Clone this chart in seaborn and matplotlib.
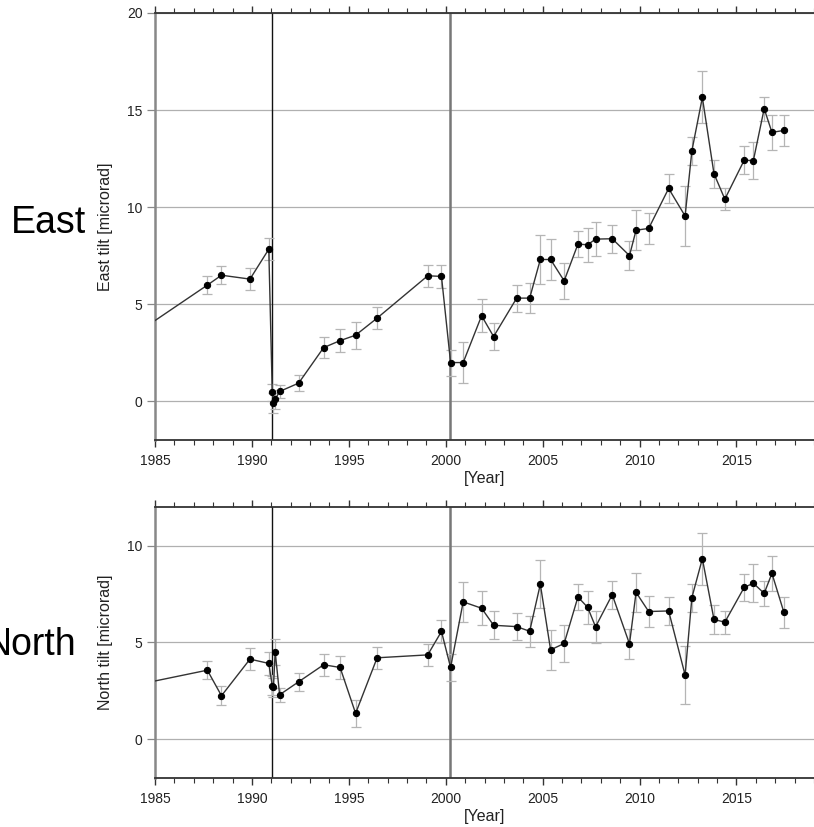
import numpy as np
import pandas as pd
import matplotlib
matplotlib.use("Agg")
import matplotlib.pyplot as plt
import seaborn as sns
from matplotlib.ticker import MultipleLocator

# ---- data ----
years = [1983.0, 1987.70, 1988.43, 1989.90, 1990.87, 1991.05, 1991.11, 1991.20, 1991.43,
         1992.41, 1993.70, 1994.55, 1995.35, 1996.46, 1999.07, 1999.78, 2000.25,
         2000.90, 2001.85, 2002.47, 2003.66, 2004.33, 2004.88, 2005.41, 2006.11,
         2006.82, 2007.32, 2007.73, 2008.59, 2009.48, 2009.82, 2010.47, 2011.50,
         2012.35, 2012.70, 2013.24, 2013.84, 2014.40, 2015.40, 2015.87, 2016.43,
         2016.83, 2017.45]

east = [2.8, 5.98, 6.49, 6.29, 7.83, 0.45, -0.10, 0.10, 0.50,
        0.93, 2.76, 3.12, 3.40, 4.28, 6.46, 6.43, 1.99,
        1.99, 4.40, 3.33, 5.31, 5.31, 7.30, 7.30, 6.20,
        8.09, 8.06, 8.35, 8.37, 7.50, 8.81, 8.90, 10.96,
        9.54, 12.90, 15.65, 11.72, 10.41, 12.42, 12.39, 15.07,
        13.85, 13.95]
east_err = [0.0, 0.46, 0.47, 0.55, 0.58, 0.45, 0.50, 0.50, 0.35,
            0.40, 0.55, 0.58, 0.70, 0.56, 0.58, 0.60, 0.67,
            1.05, 0.84, 0.71, 0.69, 0.77, 1.25, 1.05, 0.93,
            0.67, 0.88, 0.86, 0.71, 0.75, 1.03, 0.79, 0.73,
            1.53, 0.72, 1.34, 0.73, 0.58, 0.72, 0.94, 0.62,
            0.89, 0.79]

north = [2.6, 3.57, 2.25, 4.14, 3.92, 2.77, 2.68, 4.52, 2.30,
         2.97, 3.85, 3.71, 1.34, 4.21, 4.36, 5.57, 3.71,
         7.10, 6.77, 5.89, 5.82, 5.58, 8.01, 4.62, 4.95,
         7.35, 6.82, 5.81, 7.47, 4.93, 7.59, 6.60, 6.63,
         3.32, 7.32, 9.33, 6.19, 6.05, 7.85, 8.06, 7.54,
         8.57, 6.55]
north_err = [0.0, 0.47, 0.48, 0.58, 0.60, 0.50, 0.50, 0.66, 0.35,
             0.45, 0.56, 0.60, 0.71, 0.58, 0.58, 0.58, 0.70,
             1.04, 0.87, 0.73, 0.70, 0.79, 1.25, 1.03, 0.95,
             0.66, 0.85, 0.83, 0.72, 0.76, 1.01, 0.79, 0.74,
             1.51, 0.72, 1.35, 0.75, 0.59, 0.71, 0.98, 0.63,
             0.91, 0.78]

event_years = [1991.05, 2000.2]
panel_names = ["East", "North"]
ylabels = ["East tilt [microrad]", "North tilt [microrad]"]
ylims = [(-2, 20), (-2, 12)]
xlim = (1985, 2019)

sns.set_theme(style="white")
plt.rcParams["font.family"] = ["Liberation Sans", "DejaVu Sans"]

W, H = 814, 827
fig = plt.figure(figsize=(W / 100, H / 100), dpi=100)

def frac_box(left, top, right, bottom):
    return [left / W, 1 - bottom / H, (right - left) / W, (bottom - top) / H]

axes = [fig.add_axes(frac_box(155, 13, 814, 440)),
        fig.add_axes(frac_box(155, 507, 814, 778))]

series = [(east, east_err), (north, north_err)]
for i, ax in enumerate(axes):
    vals, errs = series[i]
    df = pd.DataFrame({"year": years, "val": vals, "err": errs})
    ax.set_xlim(*xlim)
    ax.set_ylim(*ylims[i])
    ax.yaxis.set_major_locator(MultipleLocator(5))
    ax.xaxis.set_major_locator(MultipleLocator(5))
    ax.xaxis.set_minor_locator(MultipleLocator(1))
    ax.grid(axis="y", color="#b0b0b0", lw=0.9)
    ax.grid(axis="x", visible=False)
    for ev, c, lw in zip(event_years, ["#111111", "#777777"], [1.0, 1.8]):
        ax.axvline(ev, color=c, lw=lw, zorder=1)
    ax.errorbar(df["year"], df["val"], yerr=df["err"], fmt="none",
                ecolor="#b5b5b5", elinewidth=0.9, capsize=3.5, capthick=0.9, zorder=2)
    sns.lineplot(data=df, x="year", y="val", sort=False, ax=ax, color="#333333",
                 lw=1.0, marker="o", markersize=4.5, markerfacecolor="black",
                 markeredgecolor="black", zorder=3)
    ax.spines["right"].set_visible(False)
    ax.spines["left"].set_color("#888888")
    ax.spines["left"].set_linewidth(1.8)
    ax.spines["top"].set_color("#333333")
    ax.spines["top"].set_linewidth(1.3)
    ax.spines["bottom"].set_color("#333333")
    ax.spines["bottom"].set_linewidth(1.3)
    ax.tick_params(axis="x", which="major", direction="out", length=5, width=1,
                   color="#333333", top=True, bottom=True, labelsize=10,
                   labelcolor="#222222", pad=5)
    ax.tick_params(axis="x", which="minor", direction="out", length=3.5, width=0.8,
                   color="#333333", top=True, bottom=True)
    ax.tick_params(axis="y", which="major", direction="out", length=6, width=0.9,
                   color="#888888", left=True, labelsize=10, labelcolor="#222222", pad=3)
    ax.set_xlabel("[Year]", fontsize=11.5, color="#222222", labelpad=2)
    ax.set_ylabel(ylabels[i], fontsize=11.5, color="#222222", labelpad=10)

fig.text(86 / W, 1 - 232.7 / H, panel_names[0], fontsize=27, ha="right",
         va="baseline", color="black")
fig.text(76 / W, 1 - 655 / H, panel_names[1], fontsize=27, ha="right",
         va="baseline", color="black")

fig.savefig("out.png", dpi=100)
